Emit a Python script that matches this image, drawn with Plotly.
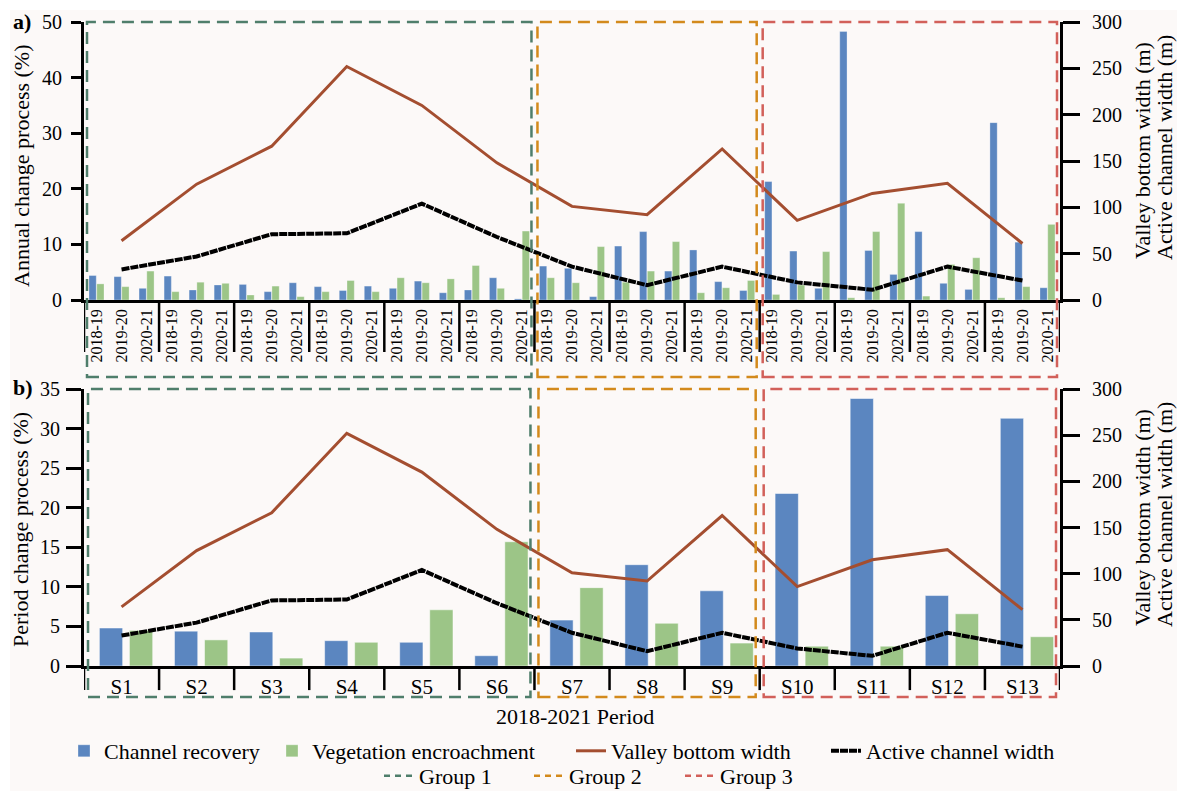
import plotly.graph_objects as go

W, H = 1177, 791

# ---- data -------------------------------------------------------------
sites = ["S1", "S2", "S3", "S4", "S5", "S6", "S7", "S8", "S9", "S10", "S11", "S12", "S13"]
years = ["2018-19", "2019-20", "2020-21"]

# annual change process (%), three intervals per site
annual_recovery = [4.4, 4.2, 2.1, 4.3, 1.8, 2.7, 2.8, 1.5, 3.1, 2.4, 1.7, 2.5,
                   2.1, 3.4, 1.3, 1.8, 4.0, 0.2, 6.1, 5.7, 0.6, 9.7, 12.3, 5.2,
                   9.0, 3.3, 1.7, 21.3, 8.8, 2.1, 48.3, 8.9, 4.6, 12.3, 3.0, 1.9,
                   31.9, 10.4, 2.2]
annual_vegetation = [2.9, 2.4, 5.2, 1.5, 3.2, 3.0, 0.9, 2.5, 0.6, 1.5, 3.5, 1.5,
                     4.0, 3.1, 3.8, 6.2, 2.1, 12.4, 4.0, 3.1, 9.6, 3.2, 5.2, 10.5,
                     1.3, 2.2, 3.5, 1.0, 2.7, 8.7, 0.4, 12.3, 17.4, 0.7, 6.4, 7.6,
                     0.4, 2.4, 13.6]

# period change process (%), 2018-2021
period_recovery = [4.8, 4.4, 4.3, 3.2, 3.0, 1.3, 5.8, 12.8, 9.5, 21.8, 33.8, 8.9, 31.3]
period_vegetation = [4.5, 3.3, 1.0, 3.0, 7.1, 15.7, 9.9, 5.4, 2.9, 2.5, 2.5, 6.6, 3.7]

# widths per site (m)
valley_width = [64, 125, 166, 252, 210, 148, 101, 92, 163, 86, 115, 126, 61]
active_width = [33, 47, 71, 72, 104, 68, 36, 16, 36, 19, 11, 36, 21]

group_names = ["Group 1", "Group 2", "Group 3"]
group_sites = [(0, 5), (6, 8), (9, 12)]

# ---- styling ----------------------------------------------------------
FONT = "Liberation Serif"
BLUE = "#5B86C0"
GREEN = "#9CC587"
RED = "#A44E30"
BLACK = "#000000"
GROUP_COLORS = ["#4F7E6B", "#D38A1C", "#D2605A"]
BG = "#FCF9F8"


def fy(p):
    """pixel row -> paper y"""
    return 1 - p / H


def fx(p):
    """pixel column -> paper x"""
    return p / W


x_dom = [fx(84), fx(1060)]
ya_dom = [fy(300), fy(22)]
yb_dom = [fy(666), fy(389)]

n_years = len(years)
n_sites = len(sites)
xa = list(range(n_sites * n_years))
xa_labels = years * n_sites
xa_mid = [i * n_years + 1 for i in range(n_sites)]
xb = list(range(n_sites))

ACTIVE_DASH = "8px,1px"
GROUP_DASH = "12px,7px"

fig = go.Figure()

# panel a bars
fig.add_trace(go.Bar(x=xa, y=annual_recovery, xaxis="x", yaxis="y", width=0.29, offset=-0.30,
                     marker=dict(color=BLUE, line=dict(color="rgba(255,255,255,0.5)", width=0.6)),
                     name="Channel recovery", legend="legend"))
fig.add_trace(go.Bar(x=xa, y=annual_vegetation, xaxis="x", yaxis="y", width=0.29, offset=0.01,
                     marker=dict(color=GREEN, line=dict(color="rgba(255,255,255,0.5)", width=0.6)),
                     name="Vegetation encroachment", legend="legend2"))
# panel a lines
fig.add_trace(go.Scatter(x=xa_mid, y=valley_width, xaxis="x", yaxis="y2", mode="lines",
                         line=dict(color=RED, width=3), name="Valley bottom width", legend="legend3"))
fig.add_trace(go.Scatter(x=xa_mid, y=active_width, xaxis="x", yaxis="y2", mode="lines",
                         line=dict(color=BLACK, width=4, dash=ACTIVE_DASH),
                         name="Active channel width", legend="legend4"))

# panel b bars
fig.add_trace(go.Bar(x=xb, y=period_recovery, xaxis="x2", yaxis="y3", width=0.31, offset=-0.295,
                     marker=dict(color=BLUE, line=dict(color="rgba(255,255,255,0.5)", width=1)),
                     showlegend=False))
fig.add_trace(go.Bar(x=xb, y=period_vegetation, xaxis="x2", yaxis="y3", width=0.31, offset=0.105,
                     marker=dict(color=GREEN, line=dict(color="rgba(255,255,255,0.5)", width=1)),
                     showlegend=False))
# panel b lines
fig.add_trace(go.Scatter(x=xb, y=valley_width, xaxis="x2", yaxis="y4", mode="lines",
                         line=dict(color=RED, width=3), showlegend=False))
fig.add_trace(go.Scatter(x=xb, y=active_width, xaxis="x2", yaxis="y4", mode="lines",
                         line=dict(color=BLACK, width=4, dash=ACTIVE_DASH), showlegend=False))

# group legend entries
for gi, name in enumerate(group_names):
    fig.add_trace(go.Scatter(x=[None], y=[None], xaxis="x", yaxis="y2", mode="lines",
                             line=dict(color=GROUP_COLORS[gi], width=2.5, dash="6px,5px"),
                             name=name, legend=f"legend{5 + gi}"))

shapes = []
# off-white canvas
shapes.append(dict(type="rect", xref="paper", yref="paper", x0=fx(10), x1=1, y0=0, y1=fy(10),
                   fillcolor=BG, line=dict(width=0), layer="below"))

# site dividers under the category axes
for k in range(n_sites + 1):
    shapes.append(dict(type="line", xref="x", yref="y domain", x0=k * n_years - 0.5, x1=k * n_years - 0.5,
                       y0=0, y1=-0.187, line=dict(color=BLACK, width=2.5)))
    shapes.append(dict(type="line", xref="x2", yref="y3 domain", x0=k - 0.5, x1=k - 0.5,
                       y0=0, y1=-0.087, line=dict(color=BLACK, width=2.5)))

# group frames
pad_a = 3 / (976 / (n_sites * n_years))
pad_b = 4 / (976 / n_sites)
for gi, (s0, s1) in enumerate(group_sites):
    shapes.append(dict(type="rect", xref="x", yref="y domain",
                       x0=s0 * n_years - 0.5 + pad_a, x1=(s1 + 1) * n_years - 0.5 - pad_a,
                       y0=-0.277, y1=1.0, fillcolor="rgba(0,0,0,0)",
                       line=dict(color=GROUP_COLORS[gi], width=2.5, dash=GROUP_DASH)))
    shapes.append(dict(type="rect", xref="x2", yref="y3 domain",
                       x0=s0 - 0.5 + pad_b, x1=s1 + 0.5 - pad_b,
                       y0=-0.112, y1=1.0, fillcolor="rgba(0,0,0,0)",
                       line=dict(color=GROUP_COLORS[gi], width=2.5, dash=GROUP_DASH)))

annotations = [
    dict(text="<b>a)</b>", x=fx(11), y=fy(21), xref="paper", yref="paper", xanchor="left", yanchor="middle",
         showarrow=False, font=dict(size=22)),
    dict(text="<b>b)</b>", x=fx(11), y=fy(387), xref="paper", yref="paper", xanchor="left", yanchor="middle",
         showarrow=False, font=dict(size=22)),
    dict(text="2018-2021 Period", x=fx(575), y=fy(716), xref="paper", yref="paper",
         xanchor="center", yanchor="middle", showarrow=False, font=dict(size=22)),
    dict(text="Annual change process (%)", x=fx(21), y=fy(166), xref="paper", yref="paper",
         xanchor="center", yanchor="middle", textangle=-90, showarrow=False, font=dict(size=22)),
    dict(text="Period change process (%)", x=fx(20), y=fy(530), xref="paper", yref="paper",
         xanchor="center", yanchor="middle", textangle=-90, showarrow=False, font=dict(size=22)),
]
for yc in (151, 518):
    annotations.append(dict(text="Valley bottom width (m)", x=fx(1142), y=fy(yc), xref="paper", yref="paper",
                            xanchor="center", yanchor="middle", textangle=-90, showarrow=False,
                            font=dict(size=22)))
    annotations.append(dict(text="Active channel width (m)", x=fx(1164), y=fy(yc - 3), xref="paper",
                            yref="paper", xanchor="center", yanchor="middle", textangle=-90,
                            showarrow=False, font=dict(size=22)))

axis_common = dict(showgrid=False, zeroline=False, showline=True, linecolor=BLACK, color=BLACK,
                   automargin=False)

layout = dict(
    template="none",
    width=W, height=H,
    autosize=False,
    margin=dict(l=0, r=0, t=0, b=0, pad=0, autoexpand=False),
    paper_bgcolor="white",
    plot_bgcolor="rgba(0,0,0,0)",
    font=dict(family=FONT, color=BLACK, size=20),
    barmode="overlay",
    xaxis=dict(domain=x_dom, anchor="y", range=[-0.5, n_sites * n_years - 0.5],
               tickmode="array", tickvals=xa, ticktext=xa_labels, tickangle=-90,
               tickfont=dict(size=16), ticks="", linewidth=2.5, **axis_common),
    yaxis=dict(domain=ya_dom, anchor="x", range=[0, 50], dtick=10, ticks="outside", ticklen=10,
               tickwidth=3, linewidth=3, tickfont=dict(size=20), ticklabelstandoff=5, **axis_common),
    yaxis2=dict(overlaying="y", side="right", anchor="x", range=[0, 300], dtick=50, ticks="outside",
                ticklen=17, tickwidth=3, linewidth=3, tickfont=dict(size=20), ticklabelstandoff=8,
                **axis_common),
    xaxis2=dict(domain=x_dom, anchor="y3", range=[-0.5, n_sites - 0.5],
                tickmode="array", tickvals=xb, ticktext=sites, tickfont=dict(size=21),
                ticks="", linewidth=2.5, **axis_common),
    yaxis3=dict(domain=yb_dom, anchor="x2", range=[0, 35], dtick=5, ticks="outside", ticklen=15,
                tickwidth=3, linewidth=3, tickfont=dict(size=20), ticklabelstandoff=2, **axis_common),
    yaxis4=dict(overlaying="y3", side="right", anchor="x2", range=[0, 300], dtick=50, ticks="outside",
                ticklen=17, tickwidth=3, linewidth=3, tickfont=dict(size=20), ticklabelstandoff=8,
                **axis_common),
    shapes=shapes,
    annotations=annotations,
)

# one legend box per entry so each entry sits at its own spot on the two legend rows
legend_spots = [(106, 751), (314, 751), (613, 751), (868, 751), (421, 776), (571, 776), (722, 776)]
for i, (tx, ty) in enumerate(legend_spots):
    key = "legend" if i == 0 else f"legend{i + 1}"
    layout[key] = dict(x=fx(tx - 42), y=fy(ty), xanchor="left", yanchor="middle",
                       orientation="h", bgcolor="rgba(0,0,0,0)", borderwidth=0,
                       font=dict(size=22, family=FONT), itemwidth=30)

fig.update_layout(**layout)
fig.write_html("out.html")
